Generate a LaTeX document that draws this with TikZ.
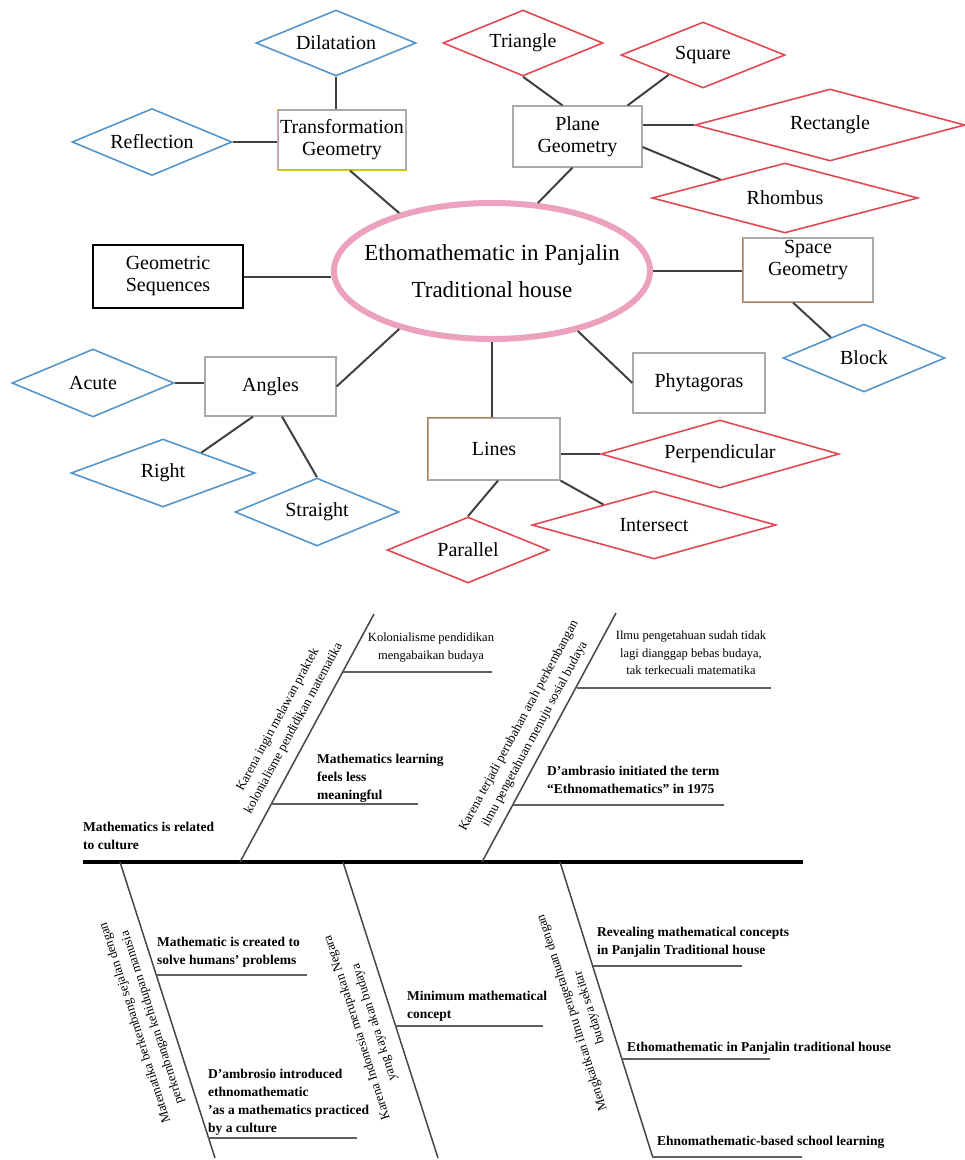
\documentclass[tikz,border=0pt]{standalone}
\usepackage{fontspec}
\setmainfont{Liberation Serif}
\usetikzlibrary{shapes.geometric,calc}
\definecolor{dblue}{RGB}{84,150,204}
\definecolor{dred}{RGB}{226,72,84}
\definecolor{pinkell}{RGB}{236,162,190}
\definecolor{cgray}{RGB}{64,64,64}
\definecolor{boxgray}{RGB}{170,170,170}
\definecolor{goldedge}{RGB}{230,190,60}
\definecolor{brownedge}{RGB}{190,130,80}
\definecolor{bonegray}{RGB}{70,70,70}
\definecolor{twiggray}{RGB}{95,95,95}
\tikzset{
  con/.style={draw=cgray, line width=2pt},
  dia/.style={diamond, draw, line width=1.6pt, inner sep=0pt, fill=white, font=\fontsize{20}{23}\selectfont},
  bdia/.style={dia, draw=dblue},
  rdia/.style={dia, draw=dred},
  box/.style={rectangle, draw=boxgray, line width=1.2pt, align=center, inner sep=0pt, fill=white, font=\fontsize{20}{22}\selectfont},
  bone/.style={draw=bonegray, line width=1.5pt},
  twig/.style={draw=twiggray, line width=2pt},
  btxt/.style={anchor=north west, inner sep=0pt, align=left, font=\fontsize{13.5}{18}\selectfont\bfseries},
  ctxt/.style={anchor=north, inner sep=0pt, align=center, font=\fontsize{12.5}{17.5}\selectfont},
  rottxt/.style={inner sep=0pt, align=center, font=\fontsize{13}{18}\selectfont},
}
\begin{document}
\begin{tikzpicture}[x=1pt,y=-1pt]
\useasboundingbox (0,0) rectangle (965,1160);

% ---------------- top concept map ----------------
\node[ellipse, draw=pinkell, line width=6pt, minimum width=316pt, minimum height=136pt, inner sep=0pt] (ell) at (492,271) {};
\node[align=center, font=\fontsize{23}{37}\selectfont, inner sep=0pt] (ellt) at (ell.center) {Ethomathematic in Panjalin\\Traditional house};

\node[box, minimum width=128pt, minimum height=60pt] (trans) at (342,140) {Transformation\\Geometry};
\draw[goldedge, line width=1.4pt] (trans.north west) -- (trans.south west) -- (trans.south east);
\node[box, minimum width=129pt, minimum height=61pt] (plane) at (577.5,136.5) {Plane\\Geometry};
\node[box, minimum width=130pt, minimum height=64pt] (space) at (808,270) {Space\\Geometry\\[2pt]};
\draw[brownedge, line width=1.4pt] (space.north west) -- (space.south west) -- (space.south east);
\node[box, draw=black, minimum width=150pt, minimum height=63pt] (geo) at (168,276.5) {Geometric\\Sequences};
\node[box, minimum width=132pt, minimum height=60pt] (pyth) at (699,383) {Phytagoras};
\node[box, minimum width=131pt, minimum height=59pt] (ang) at (270.5,386.5) {Angles};
\node[box, minimum width=132pt, minimum height=62pt] (lines) at (494,449) {Lines};
\draw[brownedge, line width=1.4pt] (lines.south west) -- (lines.north west) -- (lines.north);

\node[bdia, minimum width=160pt, minimum height=66pt, aspect=2.42] (dil) at (336,43) {Dilatation};
\node[bdia, minimum width=160pt, minimum height=67pt, aspect=2.39] (refl) at (152,142) {Reflection};
\node[rdia, minimum width=160pt, minimum height=66pt, aspect=2.42] (tri) at (523,43) {Triangle};
\node[rdia, minimum width=164pt, minimum height=66pt, aspect=2.48] (sq) at (703,55) {Square};
\node[rdia, minimum width=270pt, minimum height=72pt, aspect=3.75] (rect) at (830,125) {Rectangle};
\node[rdia, minimum width=266pt, minimum height=70pt, aspect=3.8] (rhom) at (785,198) {Rhombus};
\node[bdia, minimum width=162pt, minimum height=68pt, aspect=2.38] (blk) at (864,358) {Block};
\node[bdia, minimum width=162pt, minimum height=68pt, aspect=2.38] (acu) at (93,383) {Acute};
\node[bdia, minimum width=184pt, minimum height=68pt, aspect=2.7] (rgt) at (163,473) {Right};
\node[bdia, minimum width=164pt, minimum height=68pt, aspect=2.41] (str) at (317,512) {Straight};
\node[rdia, minimum width=238pt, minimum height=68pt, aspect=3.5] (perp) at (720,454) {Perpendicular};
\node[rdia, minimum width=244pt, minimum height=68pt, aspect=3.59] (inter) at (654,525) {Intersect};
\node[rdia, minimum width=162pt, minimum height=66pt, aspect=2.45] (par) at (468,550) {Parallel};

% connectors
\draw[con] (dil.south) -- (dil.south |- trans.north);
\draw[con] (refl.east) -- (refl.east -| trans.west);
\draw[con] ($(trans.south)+(8,0)$) -- (ell.148);
\draw[con] ($(plane.south)+(-5,0)$) -- (ell.56.5);
\draw[con] (tri.south) -- ($(plane.north)+(-15,0)$);
\draw[con] (sq.210) -- ($(plane.north east)+(-15,0)$);
\draw[con] (rect.west) -- (rect.west -| plane.east);
\draw[con] ($(plane.east)+(0,10.5)$) -- (rhom.164);
\draw[con] (ell.east) -- (ell.east -| space.west);
\draw[con] ($(space.south)+(-15,0)$) -- (blk.148);
\draw[con] (ell.-35.5) -- (pyth.west);
\draw[con] (ell.south) -- (ell.south |- lines.north);
\draw[con] (perp.west) -- (perp.west -| lines.east);
\draw[con] (lines.south east) -- (inter.158);
\draw[con] ($(lines.south)+(4,0)$) -- (par.north);
\draw[con] (ang.east) -- (ell.212.6);
\draw[con] (acu.east) -- (acu.east -| ang.west);
\draw[con] ($(ang.south)+(-17.5,0)$) -- (rgt.28.5);
\draw[con] ($(ang.south)+(11.5,0)$) -- (str.north);
\draw[con] (geo.east) -- (geo.east -| ell.west);

% ---------------- fishbone ----------------
\coordinate (sp1) at (83,862);
\coordinate (sp2) at (803,862);
\draw[black, line width=4.5pt] (sp1) -- (sp2);

\coordinate (b1s) at (240,862); \coordinate (b1e) at (374,614);
\coordinate (b2s) at (482,862); \coordinate (b2e) at (616,613);
\coordinate (b3s) at (120,862); \coordinate (b3e) at (215,1158);
\coordinate (b4s) at (343,862); \coordinate (b4e) at (438,1158);
\coordinate (b5s) at (560,862); \coordinate (b5e) at (653,1158);
\draw[bone] (b1s) -- (b1e);
\draw[bone] (b2s) -- (b2e);
\draw[bone] (b3s) -- (b3e);
\draw[bone] (b4s) -- (b4e);
\draw[bone] (b5s) -- (b5e);

% twigs
\coordinate (t1a) at (343,672);  \coordinate (t1b) at (492,672);
\coordinate (t2a) at (271,804);  \coordinate (t2b) at (418,804);
\coordinate (t3a) at (577,688);  \coordinate (t3b) at (771,688);
\coordinate (t4a) at (513,805);  \coordinate (t4b) at (724,805);
\coordinate (t5a) at (156,975);  \coordinate (t5b) at (307,975);
\coordinate (t6a) at (208,1138); \coordinate (t6b) at (357,1138);
\coordinate (t7a) at (395,1026); \coordinate (t7b) at (543,1026);
\coordinate (t8a) at (593,966);  \coordinate (t8b) at (742,966);
\coordinate (t9a) at (622,1059); \coordinate (t9b) at (770,1059);
\coordinate (t10a) at (652,1157); \coordinate (t10b) at (802,1157);
\foreach \i in {1,...,10} { \draw[twig] (t\i a) -- (t\i b); }

% twig texts
\node[ctxt] (k1) at (431,633) {Kolonialisme pendidikan\\mengabaikan budaya};
\node[btxt] (k2) at (317,754) {Mathematics learning\\feels less\\meaningful};
\node[ctxt] (k3) at (691,631) {Ilmu pengetahuan sudah tidak\\lagi dianggap bebas budaya,\\tak terkecuali matematika};
\node[btxt] (k4) at (547,766) {D’ambrasio initiated the term\\“Ethnomathematics” in 1975};
\node[btxt] (k0) at (83,822) {Mathematics is related\\to culture};
\node[btxt] (k5) at (157,937) {Mathematic is created to\\solve humans’ problems};
\node[btxt] (k6) at (208,1069) {D’ambrosio introduced\\ethnomathematic\\’as a mathematics practiced\\by a culture};
\node[btxt] (k7) at (407,991) {Minimum mathematical\\concept};
\node[btxt] (k8) at (597,927) {Revealing mathematical concepts\\in Panjalin Traditional house};
\node[btxt] (k9) at (627,1042) {Ethomathematic in Panjalin traditional house};
\node[btxt] (k10) at (657,1136) {Ehnomathematic-based school learning};

% rotated bone texts
\node[rottxt, rotate=61.6] (r1) at (286,724) {Karena ingin melawan praktek\\kolonialisme pendidikan matematika};
\node[rottxt, rotate=61.6] (r2) at (527,730) {Karena terjadi perubahan arah perkembangan\\ilmu pengetahuan menuju sosial budaya};
\node[rottxt, rotate=107.8] (r3) at (144,1020) {Matematika berkembang sejalan dengan\\perkembangan kehidupan manusia};
\node[rottxt, rotate=107.8] (r4) at (366,1025) {Karena Indonesia merupakan Negara\\yang kaya akan budaya};
\node[rottxt, rotate=107.8] (r5) at (581,1010) {Mengkaitkan ilmu pengetahuan dengan\\budaya sekitar};
\end{tikzpicture}
\end{document}
